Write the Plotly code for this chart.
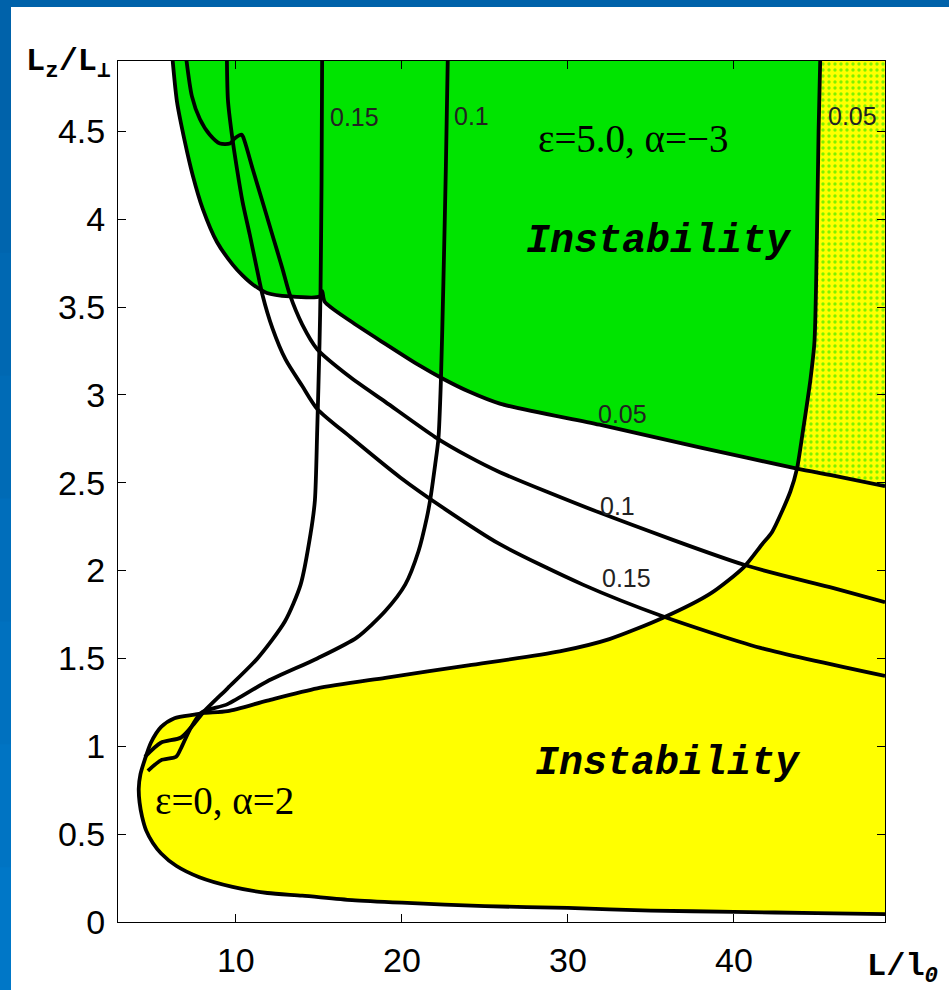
import plotly.graph_objects as go

# ---------------- data ----------------
# eps=0, alpha=2 family (yellow instability region)
Y05_X = [45.22, 45.1, 45.0, 44.85, 44.6, 44.45, 44.15, 43.8, 43.4, 42.3, 41.7, 40.6, 38.6, 35.7,
         32.5, 29.5, 24.0, 19.0, 14.9, 11.9, 9.5, 8.1, 7.5, 6.3, 5.5, 4.88, 4.5, 4.25, 4.15, 4.2,
         4.35, 4.6, 5.0, 5.5, 6.4, 7.8, 9.8, 11.9, 14.0, 17.0, 20.0, 25.0, 30.0, 35.0, 40.0, 45.0, 49.1]
Y05_Y = [5.0, 4.5, 3.9, 3.3, 3.08, 2.98, 2.79, 2.58, 2.45, 2.22, 2.15, 2.02, 1.87, 1.73,
         1.61, 1.54, 1.46, 1.39, 1.33, 1.26, 1.2, 1.19, 1.18, 1.16, 1.11, 1.02, 0.92, 0.84, 0.76, 0.68,
         0.6, 0.52, 0.45, 0.39, 0.32, 0.255, 0.2, 0.165, 0.15, 0.125, 0.11, 0.09, 0.08, 0.065, 0.058, 0.05, 0.045]

Y10_X = [4.7, 5.48, 6.4, 6.7, 7.2, 7.9, 9.5, 11.9, 14.9, 17.3, 19.0, 20.2, 21.0, 21.5, 21.7, 22.0,
         22.2, 22.35, 22.5, 22.65, 22.78]
Y10_Y = [0.86, 0.92, 0.94, 0.99, 1.09, 1.19, 1.24, 1.37, 1.5, 1.62, 1.77, 1.92, 2.11, 2.3, 2.4, 2.6,
         2.75, 3.08, 3.64, 4.3, 5.0]

Y15_X = [4.52, 5.48, 6.7, 7.5, 8.1, 9.5, 11.3, 12.95, 13.9, 14.5, 14.76, 14.9, 15.04, 15.1, 15.16, 15.2]
Y15_Y = [0.94, 1.02, 1.05, 1.13, 1.2, 1.33, 1.5, 1.71, 1.92, 2.21, 2.4, 2.8, 3.3, 3.6, 4.2, 5.0]

# eps=5.0, alpha=-3 family (green instability region)
G05_X = [6.1, 6.45, 6.93, 7.4, 8.0, 8.86, 9.82, 10.4, 11.0, 11.87, 13.25, 15.06, 15.2, 15.35,
         16.9, 19.0, 21.0, 22.5, 24.0, 25.9, 31.9, 38.0, 43.8, 46.0, 49.1]
G05_Y = [5.0, 4.67, 4.44, 4.25, 4.06, 3.87, 3.74, 3.68, 3.63, 3.58, 3.56, 3.56, 3.59, 3.53,
         3.42, 3.29, 3.17, 3.09, 3.02, 2.95, 2.83, 2.70, 2.58, 2.54, 2.48]

G10_X = [6.9, 7.35, 7.83, 8.43, 9.04, 9.64, 9.94, 10.36, 10.54, 11.0, 11.6, 12.2, 12.8, 13.25,
         14.0, 14.9, 16.9, 19.0, 22.0, 24.0, 25.9, 31.9, 40.7, 46.0, 49.1]
G10_Y = [5.0, 4.7, 4.57, 4.48, 4.43, 4.43, 4.46, 4.48, 4.44, 4.29, 4.1, 3.91, 3.72, 3.57,
         3.40, 3.26, 3.10, 2.96, 2.76, 2.65, 2.56, 2.33, 2.03, 1.9, 1.82]

G15_X = [9.45, 9.52, 9.76, 10.06, 10.4, 10.84, 11.26, 11.6, 12.2, 13.0, 14.0, 14.9, 16.9, 19.9,
         22.6, 25.9, 30.9, 35.7, 41.6, 49.1]
G15_Y = [5.0, 4.68, 4.48, 4.29, 4.1, 3.91, 3.72, 3.57, 3.38, 3.2, 3.05, 2.92, 2.76, 2.53,
         2.35, 2.15, 1.92, 1.74, 1.56, 1.40]

X_TICKS = [10, 20, 30, 40]
Y_TICKS = [0, 0.5, 1, 1.5, 2, 2.5, 3, 3.5, 4, 4.5]
Y_TICKTEXT = ["0", "0.5", "1", "1.5", "2", "2.5", "3", "3.5", "4", "4.5"]

X_RANGE = [2.9, 49.1]
Y_RANGE = [0, 4.9]

YELLOW = "#ffff00"
GREEN = "#00e400"
SMOOTH = 0.7

# ---------------- build fill polygons from the curves ----------------
XR = X_RANGE[1] + 1.0
YT = 5.0
yel_x = Y05_X + [XR, XR]
yel_y = Y05_Y + [Y05_Y[-1], YT]

yb_top = [(x, y) for x, y in zip(Y05_X, Y05_Y) if y >= 2.58]
g_left = [(x, y) for x, y in zip(G05_X, G05_Y) if x <= 43.8]
g_right = [(x, y) for x, y in zip(G05_X, G05_Y) if x >= 43.8]

grn = g_left + list(reversed(yb_top))
grn_x = [p[0] for p in grn]
grn_y = [p[1] for p in grn]

spk = yb_top + g_right + [(XR, G05_Y[-1]), (XR, YT)]
spk_x = [p[0] for p in spk]
spk_y = [p[1] for p in spk]

fig = go.Figure()
fig.add_trace(go.Scatter(x=yel_x, y=yel_y, mode="lines", fill="toself", fillcolor=YELLOW,
                         line=dict(width=0, shape="spline", smoothing=SMOOTH),
                         hoverinfo="skip", showlegend=False))
fig.add_trace(go.Scatter(x=grn_x, y=grn_y, mode="lines", fill="toself", fillcolor=GREEN,
                         line=dict(width=0, shape="spline", smoothing=SMOOTH),
                         hoverinfo="skip", showlegend=False))
fig.add_trace(go.Scatter(x=spk_x, y=spk_y, mode="lines", fill="toself", fillcolor=YELLOW,
                         fillpattern=dict(shape=".", bgcolor=YELLOW, fgcolor=GREEN,
                                          size=6, solidity=0.25),
                         line=dict(width=0, shape="spline", smoothing=SMOOTH),
                         hoverinfo="skip", showlegend=False))

for cx, cy in [(Y05_X, Y05_Y), (Y10_X, Y10_Y), (Y15_X, Y15_Y),
               (G05_X, G05_Y), (G10_X, G10_Y), (G15_X, G15_Y)]:
    fig.add_trace(go.Scatter(x=cx, y=cy, mode="lines",
                             line=dict(color="black", width=3.8, shape="spline", smoothing=SMOOTH),
                             hoverinfo="skip", showlegend=False))

axis_common = dict(showline=True, linecolor="black", linewidth=1, mirror="ticks",
                   ticks="inside", ticklen=8, tickwidth=1, tickcolor="black",
                   showgrid=False, zeroline=False,
                   tickfont=dict(family="Liberation Sans, Arial, sans-serif", size=34, color="black"))

fig.update_xaxes(range=X_RANGE, tickvals=X_TICKS, ticklabelstandoff=8, **axis_common)
fig.update_yaxes(range=Y_RANGE, tickvals=Y_TICKS, ticktext=Y_TICKTEXT, ticklabelstandoff=5,
                 **axis_common)

lab_font = dict(family="Liberation Sans, Arial, sans-serif", size=25, color="#222222")
mono_font = dict(family="Liberation Mono, Courier New, monospace", size=40, color="black")
serif_font = dict(family="Liberation Serif, Times New Roman, serif", size=39, color="black")
axlab_font = dict(family="Liberation Mono, Courier New, monospace", size=32, color="black")

ann = [
    dict(x=17.17, y=4.58, text="0.15", font=lab_font),
    dict(x=24.2, y=4.585, text="0.1", font=lab_font),
    dict(x=47.17, y=4.585, text="0.05", font=lab_font),
    dict(x=33.3, y=2.89, text="0.05", font=lab_font),
    dict(x=33.0, y=2.37, text="0.1", font=lab_font),
    dict(x=33.5, y=1.96, text="0.15", font=lab_font),
    dict(x=28.1, y=4.46, text="ε=5.0, α=−3", font=serif_font, xanchor="left"),
    dict(x=5.0, y=0.69, text="ε=0, α=2", font=serif_font, xanchor="left"),
    dict(x=35.5, y=3.87, text="<b><i>Instability</i></b>", font=mono_font),
    dict(x=36.0, y=0.9, text="<b><i>Instability</i></b>", font=mono_font),
]
annotations = []
for a in ann:
    d = dict(xref="x", yref="y", showarrow=False, xanchor=a.get("xanchor", "center"),
             yanchor="middle")
    d.update(a)
    annotations.append(d)

annotations.append(dict(xref="paper", yref="paper", x=(24 - 118) / 767, y=(922 - 64) / 861,
                        xanchor="left", yanchor="middle", showarrow=False,
                        text="<b>L<sub>z</sub>/L<sub>⊥</sub></b>", font=axlab_font))
annotations.append(dict(xref="paper", yref="paper", x=(865 - 118) / 767, y=(922 - 968) / 861,
                        xanchor="left", yanchor="middle", showarrow=False,
                        text="<b>L/l<sub><i>0</i></sub></b>", font=axlab_font))

# white page with a blue frame along the top and left edges (left band lighter toward bottom)
shapes = [dict(type="rect", xref="paper", yref="paper", layer="below",
               x0=(11 - 118) / 767, x1=(980 - 118) / 767,
               y0=(922 - 1020) / 861, y1=(922 - 7) / 861,
               fillcolor="white", line=dict(width=0))]
band_cols = ["#0062aa", "#0065ae", "#0068b2", "#006bb6", "#006ebb", "#0071bf", "#0074c3", "#0077c7"]
nb = len(band_cols)
for i, c in enumerate(band_cols):
    ytop = 7 + i * (990 - 7) / nb
    ybot = 7 + (i + 1) * (990 - 7) / nb
    shapes.append(dict(type="rect", xref="paper", yref="paper", layer="below",
                       x0=(-20 - 118) / 767, x1=(11 - 118) / 767,
                       y0=(922 - ybot - 1) / 861, y1=(922 - ytop) / 861,
                       fillcolor=c, line=dict(width=0)))

fig.update_layout(width=949, height=990, autosize=False,
                  margin=dict(l=118, r=64, t=61, b=68),
                  paper_bgcolor="#0062aa", plot_bgcolor="white",
                  annotations=annotations, shapes=shapes, showlegend=False)

fig.write_html("out.html")
